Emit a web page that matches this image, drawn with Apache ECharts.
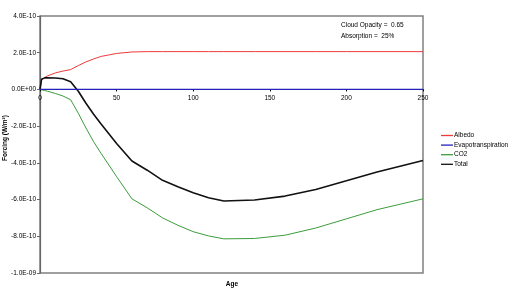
<!DOCTYPE html>
<html lang="en">
<head>
    <meta charset="UTF-8">
    <title>Forcing</title>
    <script src="https://cdn.jsdelivr.net/npm/echarts@6/dist/echarts.min.js"></script>
    <style>
        html, body { margin: 0; padding: 0; background: #fff; }
    </style>
</head>
<body>
<div id="main" style="width: 514px;height: 289px;"></div>
</body>
    <script type="text/javascript">
        // forcing values are in units of 1E-10 W/m2
        var ages = [0, 1, 3, 5, 10, 15, 20, 25, 30, 35, 40, 50, 60, 70, 80, 90, 100, 110, 120, 140, 160, 180, 200, 220, 250];
        var albedo = [0, 0.5, 0.65, 0.74, 0.9, 1.0, 1.08, 1.3, 1.5, 1.66, 1.8, 1.96, 2.04, 2.06, 2.06, 2.06, 2.06, 2.06, 2.06, 2.06, 2.06, 2.06, 2.06, 2.06, 2.06];
        var evapo = [0, 0, 0, 0, 0, 0, 0, 0, 0, 0, 0, 0, 0, 0, 0, 0, 0, 0, 0, 0, 0, 0, 0, 0, 0];
        var co2 = [0, -0.02, -0.06, -0.1, -0.22, -0.36, -0.56, -1.3, -2.1, -2.85, -3.5, -4.75, -5.96, -6.45, -7.0, -7.4, -7.75, -7.98, -8.14, -8.12, -7.94, -7.55, -7.05, -6.55, -5.96];
        var total = [0, 0.55, 0.63, 0.64, 0.62, 0.58, 0.42, -0.1, -0.75, -1.35, -1.9, -2.95, -3.9, -4.4, -4.95, -5.3, -5.63, -5.9, -6.08, -6.02, -5.81, -5.45, -4.98, -4.5, -3.87];
        var seriesNames = ['Albedo', 'Evapotranspiration', 'CO2', 'Total'];
        var seriesColors = ['#ee3b3b', '#2323b8', '#3d9d3d', '#111111'];
        var seriesWidths = [1, 1.2, 1, 1.6];
        var notes = ['Cloud Opacity =  0.65', 'Absorption =  25%'];

        function pairs(vals) {
            var out = [];
            for (var i = 0; i < ages.length; i++) {
                out.push([ages[i], vals[i]]);
            }
            return out;
        }

        function sci(v) {
            var x = v * 1e-10;
            if (Math.abs(x) < 1e-15) x = 0;
            var s = x.toExponential(1).toUpperCase();
            return s.replace(/E([+-])(\d)$/, 'E$10$2');
        }

        var font = 'Liberation Sans, Arial, sans-serif';
        var gridTop = 16, gridBottom = 16, yMin = -10, yMax = 4;
        // distance from the plot bottom up to the zero line, so the age axis sits on zero
        var plotH = 289 - gridTop - gridBottom;
        var zeroLift = plotH * (0 - yMin) / (yMax - yMin);

        var allData = [albedo, evapo, co2, total];
        var series = [];
        for (var k = 0; k < seriesNames.length; k++) {
            series.push({
                name: seriesNames[k],
                type: 'line',
                data: pairs(allData[k]),
                showSymbol: false,
                symbol: 'none',
                smooth: false,
                z: k === 1 ? 3 : 2,
                lineStyle: { color: seriesColors[k], width: seriesWidths[k] },
                itemStyle: { color: seriesColors[k] }
            });
        }

        var myChart = echarts.init(document.getElementById('main'));
        var option = {
            animation: false,
            backgroundColor: '#fff',
            textStyle: { fontFamily: font },
            grid: {
                left: 40, right: 91, top: gridTop, bottom: gridBottom,
                show: true, borderColor: '#808080', borderWidth: 1.5,
                containLabel: false
            },
            legend: {
                orient: 'vertical',
                left: 436, top: 126,
                icon: 'rect',
                itemWidth: 12, itemHeight: 1.3,
                itemGap: 0.6,
                data: seriesNames,
                textStyle: { fontSize: 6.5, color: '#000', lineHeight: 9, padding: [0, 0, 0, -4] }
            },
            xAxis: {
                type: 'value',
                min: 0, max: 250, interval: 50,
                offset: -zeroLift,
                axisLine: { onZero: false, lineStyle: { color: '#000', width: 1 } },
                axisTick: { show: true, length: 2, lineStyle: { color: '#000' } },
                axisLabel: { fontSize: 6.5, color: '#000', margin: 5 },
                splitLine: { show: false }
            },
            yAxis: {
                type: 'value',
                min: yMin, max: yMax, interval: 2,
                axisLine: { show: true, lineStyle: { color: '#666', width: 1.2 } },
                axisTick: { show: true, length: 3, lineStyle: { color: '#666' } },
                axisLabel: { fontSize: 6.5, color: '#000', margin: 4, formatter: sci },
                splitLine: { show: false }
            },
            graphic: [
                { type: 'text', left: 341, top: 22, style: { text: notes[0], fontSize: 6.5, fill: '#000', fontFamily: font } },
                { type: 'text', left: 341, top: 33, style: { text: notes[1], fontSize: 6.5, fill: '#000', fontFamily: font } },
                { type: 'text', x: 232, y: 284, style: { text: 'Age', fontSize: 6.5, fontWeight: 'bold', fill: '#000', align: 'center', verticalAlign: 'middle', fontFamily: font } },
                { type: 'text', x: 5, y: 138, rotation: Math.PI / 2, style: { text: 'Forcing (W/m²)', fontSize: 6.5, fontWeight: 'bold', fill: '#000', align: 'center', verticalAlign: 'middle', fontFamily: font } }
            ],
            series: series
        };
        myChart.setOption(option);
    </script>
</html>
